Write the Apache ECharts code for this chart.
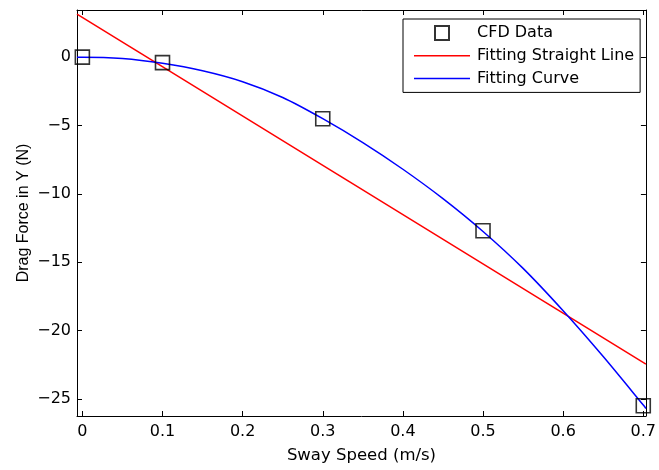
<!DOCTYPE html>
<html>
<head>
<meta charset="utf-8">
<script src="https://cdn.jsdelivr.net/npm/echarts@6/dist/echarts.min.js"></script>
<style>
  html, body { margin: 0; padding: 0; background: #fff; }
  #chart { width: 659px; height: 470px; }
</style>
</head>
<body>
<div id="chart"></div>
<script>
// Axis ranges and tick positions
const xRange = [-0.0067, 0.7033];
const yRange = [-26.25, 3.45];
const xTicks = [0, 0.1, 0.2, 0.3, 0.4, 0.5, 0.6, 0.7];
const yTicks = [-25, -20, -15, -10, -5, 0];

// CFD samples
const cfdSpeed = [0, 0.1, 0.3, 0.5, 0.7];
const cfdForce = [0, -0.4, -4.5, -12.7, -25.5];

// Fitted straight line (end points at the axis limits)
const lineSpeed = [-0.0067, 0.7033];
const lineForce = [3.15, -22.45];

// Fitted curve samples
const curveSpeed = [-0.0067, 0, 0.05, 0.1, 0.15, 0.2, 0.25, 0.3, 0.35, 0.4, 0.45, 0.5, 0.55, 0.6, 0.65, 0.7, 0.7033];
const curveForce = [0, 0, -0.1, -0.45, -1.0, -1.8, -2.95, -4.5, -6.25, -8.2, -10.35, -12.75, -15.45, -18.55, -21.9, -25.45, -25.7];

const zip = (xs, ys) => xs.map((x, i) => [x, ys[i]]);

const tickFont = { fontFamily: 'DejaVu Sans', fontSize: 16, color: '#000' };
const frameLine = { show: true, onZero: false, lineStyle: { color: '#000', width: 1 } };

function xAxisDef(pos, main) {
  return {
    type: 'value', position: pos, min: xRange[0], max: xRange[1],
    axisLine: frameLine,
    axisTick: { show: true, inside: true, length: 5, customValues: xTicks, lineStyle: { color: '#000' } },
    axisLabel: main ? Object.assign({ show: true, margin: 8, customValues: xTicks,
      formatter: v => String(+(+v).toFixed(1)) }, tickFont) : { show: false },
    splitLine: { show: false },
    name: main ? 'Sway Speed (m/s)' : '',
    nameLocation: 'middle', nameGap: 31, nameMoveOverlap: false,
    nameTextStyle: { fontFamily: 'DejaVu Sans', fontSize: 16.5, color: '#000' }
  };
}
function yAxisDef(pos, main) {
  return {
    type: 'value', position: pos, min: yRange[0], max: yRange[1],
    axisLine: frameLine,
    axisTick: { show: true, inside: true, length: 5, customValues: yTicks, lineStyle: { color: '#000' } },
    axisLabel: main ? Object.assign({ show: true, margin: 6, customValues: yTicks,
      formatter: v => String(Math.round(v)).replace('-', '\u2212') }, tickFont) : { show: false },
    splitLine: { show: false },
    name: main ? 'Drag Force in Y (N)' : '',
    nameLocation: 'middle', nameGap: 45, nameMoveOverlap: false,
    nameTextStyle: { fontFamily: 'Liberation Sans', fontSize: 16, color: '#000' }
  };
}

// Legend keys: an open square for the samples, short strokes for the fits
const squareIcon = 'path://M0,0H14V14H0Z';
const strokeIcon = 'path://M0,0H56V1.5H0Z';

const chart = echarts.init(document.getElementById('chart'), null, { renderer: 'canvas' });
chart.setOption({
  animation: false,
  backgroundColor: '#fff',
  grid: { left: 77, right: 7, top: 10, bottom: 54, containLabel: false },
  xAxis: [xAxisDef('bottom', true), xAxisDef('top', false)],
  yAxis: [yAxisDef('left', true), yAxisDef('right', false)],
  legend: {
    orient: 'vertical', left: 403, top: 19,
    padding: [6, 6, 6, 11], itemGap: 6.7,
    itemWidth: 56, itemHeight: 14,
    backgroundColor: '#fff', borderColor: '#000', borderWidth: 1,
    textStyle: { fontFamily: 'DejaVu Sans', fontSize: 16, color: '#000', padding: [0, 0, 0, 2] },
    data: [
      { name: 'CFD Data', icon: squareIcon },
      { name: 'Fitting Straight Line', icon: strokeIcon, itemStyle: { color: '#ff0000', borderWidth: 0 } },
      { name: 'Fitting Curve', icon: strokeIcon, itemStyle: { color: '#0000ff', borderWidth: 0 } }
    ]
  },
  series: [
    {
      name: 'CFD Data', type: 'scatter', z: 5,
      symbol: 'rect', symbolSize: 14,
      itemStyle: { color: 'rgba(0,0,0,0)', borderColor: '#000', borderWidth: 1.6 },
      data: zip(cfdSpeed, cfdForce)
    },
    {
      name: 'Fitting Straight Line', type: 'line', z: 3,
      symbol: 'none', showSymbol: false,
      lineStyle: { color: '#ff0000', width: 1.5 },
      itemStyle: { color: '#ff0000' },
      data: zip(lineSpeed, lineForce)
    },
    {
      name: 'Fitting Curve', type: 'line', z: 4,
      symbol: 'none', showSymbol: false, smooth: 0.3,
      lineStyle: { color: '#0000ff', width: 1.5 },
      itemStyle: { color: '#0000ff' },
      data: zip(curveSpeed, curveForce)
    }
  ]
});
</script>
</body>
</html>
